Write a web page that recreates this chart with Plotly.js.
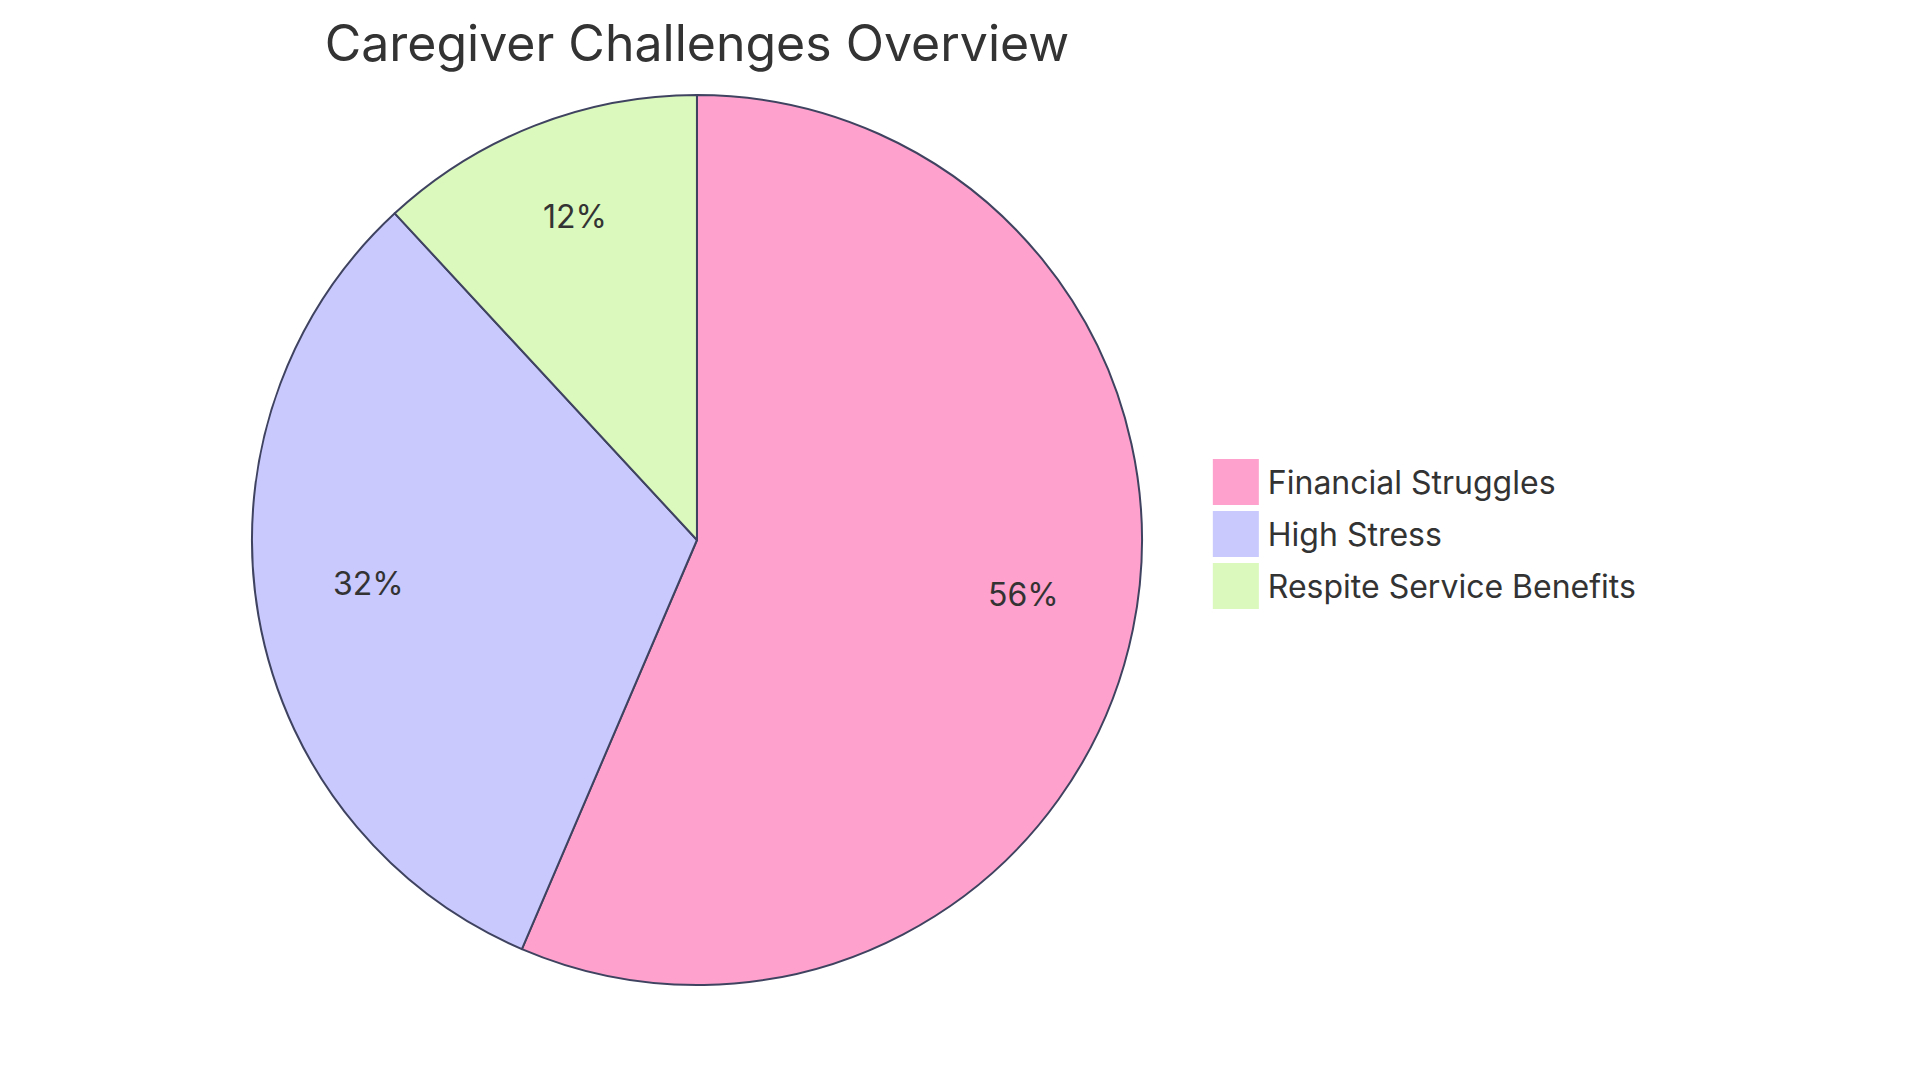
<!DOCTYPE html>
<html>
<head>
<meta charset="utf-8">
<script src="https://cdn.plot.ly/plotly-3.0.1.min.js"></script>
<style>
  html, body { margin: 0; padding: 0; background: #fff; }
  #graph { width: 1920px; height: 1083px; }
</style>
</head>
<body>
<div id="graph"></div>
<script>
// pie data
const labels = ['Financial Struggles', 'High Stress', 'Respite Service Benefits'];
const values = [57, 32, 12];
const colors = ['#fea1cc', '#c9c9fd', '#dbf9bc'];

const font = 'Inter, "Open Sans", sans-serif';
const textColor = '#333333';

// pie placement (paper units) -- center of domain and radius
const domX = [0, 0.726];
const cx = (domX[0] + domX[1]) / 2;
const W = 1920, H = 1083;
const M = {l: 0, r: 0, t: 95, b: 98};
const plotH = H - M.t - M.b;
const rPx = Math.min(W * (domX[1] - domX[0]), plotH) / 2;

// percent labels sit at 3/4 of the radius, like the original
var total = values.reduce((a, b) => a + b, 0);
var annotations = [];
var acc = 0;
values.forEach(function(v) {
    var mid = (acc + v / 2) / total * 2 * Math.PI;  // clockwise from 12 o'clock
    acc += v;
    var r = 0.75 * rPx;
    annotations.push({
        xref: 'paper', yref: 'paper',
        x: cx + r * Math.sin(mid) / W,
        y: 0.5 + r * Math.cos(mid) / plotH,
        xanchor: 'center', yanchor: 'middle',
        yshift: 13,
        showarrow: false,
        text: Math.round(v / total * 100) + '%',
        font: {family: font, size: 32, color: textColor}
    });
});

var trace = {
    type: 'pie',
    labels: labels,
    values: values,
    sort: false,
    direction: 'clockwise',
    rotation: 0,
    marker: {colors: colors, line: {color: '#3f4360', width: 2}},
    textinfo: 'none',
    hoverinfo: 'label+percent',
    domain: {x: domX, y: [0, 1]}
};

const layout = {
    width: W,
    height: H,
    paper_bgcolor: '#fff',
    plot_bgcolor: '#fff',
    margin: M,
    title: {
        text: 'Caregiver Challenges Overview',
        x: cx,
        xanchor: 'center',
        y: 0.96,
        yanchor: 'middle',
        font: {family: font, size: 50, color: textColor}
    },
    annotations: annotations,
    showlegend: true,
    legend: {
        x: 0.627,
        xanchor: 'left',
        y: 0.5,
        yanchor: 'middle',
        itemwidth: 54,
        font: {family: font, size: 32, color: textColor}
    }
};

Plotly.newPlot('graph', [trace], layout, {displayModeBar: false}).then(function(gd) {
    // bigger square swatches and looser rows, as in the original legend
    var box = gd.querySelector('.legend .scrollbox');
    if (box) box.removeAttribute('clip-path');
    var items = gd.querySelectorAll('.legend .traces');
    var ys = [];
    items.forEach(function(g) {
        var m = /translate\(([-\d.]+),\s*([-\d.]+)\)/.exec(g.getAttribute('transform'));
        ys.push(m ? [parseFloat(m[1]), parseFloat(m[2])] : [0, 0]);
    });
    var mid = (ys.length - 1) / 2;
    var yMid = ys.length ? (ys[0][1] + ys[ys.length - 1][1]) / 2 : 0;
    items.forEach(function(g, i) {
        g.setAttribute('transform', 'translate(' + ys[i][0] + ',' + (yMid + (i - mid) * 52 - 6) + ')');
    });
    gd.querySelectorAll('.legend path.legendpie').forEach(function(p) {
        p.setAttribute('d', 'M23,23H-23V-23H23Z');
        p.style.strokeWidth = '0px';
    });
});
</script>
</body>
</html>
